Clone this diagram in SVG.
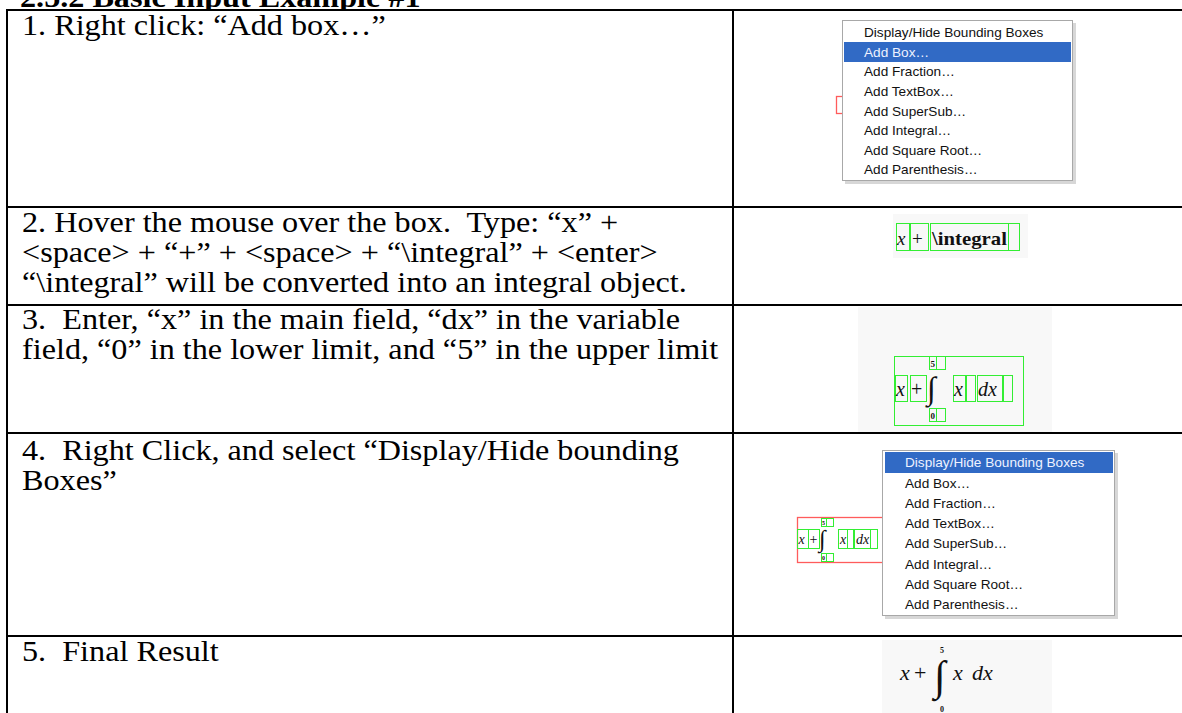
<svg xmlns="http://www.w3.org/2000/svg" width="1182" height="713" viewBox="0 0 1182 713">
<style>
.t{font-family:"Liberation Serif","Times New Roman",serif;font-size:29px;fill:#000;white-space:pre}
.h{font-family:"Liberation Serif","Times New Roman",serif;font-size:29px;font-weight:bold;fill:#000;white-space:pre}
.ln{stroke:#000;stroke-width:2;fill:none}
.m{font-family:"Liberation Sans",Arial,sans-serif;font-size:12.5px;fill:#111;white-space:pre}
.mw{font-family:"Liberation Sans",Arial,sans-serif;font-size:12.5px;fill:#eef2ff;white-space:pre}
.menu{fill:#fff;stroke:#a8a8a8;stroke-width:1}
.shadow{fill:#b0b0b0;opacity:0.5}
.hl{fill:#316ac5}
.g{fill:none;stroke:#33ee33;stroke-width:1}
.r{fill:none;stroke:#ff5c5c;stroke-width:1.3}
.fi{font-family:"Liberation Serif","Times New Roman",serif;font-style:italic;fill:#111}
.fr{font-family:"Liberation Serif","Times New Roman",serif;fill:#111}
.bg{fill:#f8f8f8}
</style>

<g id="header">
<text class="h" transform="translate(20,7) scale(1.11,1)">2.5.2 Basic Input Example #1</text>
</g>

<g id="table">
<rect x="0" y="9" width="1182" height="704" fill="#fff"/>
<line class="ln" x1="6" y1="10" x2="1182" y2="10"/>
<line class="ln" x1="6" y1="207" x2="1182" y2="207"/>
<line class="ln" x1="6" y1="305" x2="1182" y2="305"/>
<line class="ln" x1="6" y1="433" x2="1182" y2="433"/>
<line class="ln" x1="6" y1="636" x2="1182" y2="636"/>
<line class="ln" x1="7" y1="9" x2="7" y2="713"/>
<line class="ln" x1="733" y1="9" x2="733" y2="713"/>
</g>

<g id="step1">
<text class="t" transform="translate(22,35) scale(1.11,1)">1. Right click: “Add box…”</text>
<rect class="r" x="836.5" y="96.5" width="30" height="17"/>
<rect class="shadow" x="845" y="23" width="231" height="161"/>
<rect class="menu" x="842.5" y="20.5" width="230" height="160"/>
<rect class="hl" x="844" y="42" width="227" height="20"/>
<text class="m" transform="translate(864,37) scale(1.09,1)">Display/Hide Bounding Boxes</text>
<text class="mw" transform="translate(864,57) scale(1.09,1)">Add Box…</text>
<text class="m" transform="translate(864,76) scale(1.09,1)">Add Fraction…</text>
<text class="m" transform="translate(864,96) scale(1.09,1)">Add TextBox…</text>
<text class="m" transform="translate(864,116) scale(1.09,1)">Add SuperSub…</text>
<text class="m" transform="translate(864,135) scale(1.09,1)">Add Integral…</text>
<text class="m" transform="translate(864,155) scale(1.09,1)">Add Square Root…</text>
<text class="m" transform="translate(864,174) scale(1.09,1)">Add Parenthesis…</text>
</g>

<g id="step2">
<text class="t" transform="translate(22,232) scale(1.11,1)">2. Hover the mouse over the box.  Type: “x” +</text>
<text class="t" transform="translate(22,262) scale(1.11,1)">&lt;space&gt; + “+” + &lt;space&gt; + “\integral” + &lt;enter&gt;</text>
<text class="t" transform="translate(22,292) scale(1.11,1)">“\integral” will be converted into an integral object.</text>
<rect class="bg" x="893" y="214" width="135" height="44"/>
<rect class="g" x="896.5" y="223.5" width="13" height="27"/>
<rect class="g" x="910.5" y="223.5" width="18" height="27"/>
<rect class="g" x="930.5" y="223.5" width="78" height="27"/>
<rect class="g" x="1008.5" y="223.5" width="11" height="27"/>
<text class="fi" x="897" y="245" font-size="19">x</text>
<text class="fr" x="912" y="245" font-size="19">+</text>
<text class="fr" x="932" y="245" font-size="19" font-weight="bold" textLength="75" lengthAdjust="spacingAndGlyphs">\integral</text>
</g>

<g id="step3">
<text class="t" transform="translate(22,329) scale(1.11,1)">3.  Enter, “x” in the main field, “dx” in the variable</text>
<text class="t" transform="translate(22,359) scale(1.11,1)">field, “0” in the lower limit, and “5” in the upper limit</text>
<rect class="bg" x="858" y="307" width="194" height="125"/>
<rect class="g" x="894.5" y="356.5" width="129" height="69"/>
<rect class="g" x="929.5" y="356.5" width="7" height="13"/>
<rect class="g" x="936.5" y="356.5" width="9" height="13"/>
<rect class="g" x="929.5" y="408.5" width="7" height="13"/>
<rect class="g" x="936.5" y="408.5" width="9" height="13"/>
<rect class="g" x="895.5" y="375.5" width="12" height="26"/>
<rect class="g" x="910.5" y="375.5" width="16" height="26"/>
<rect class="g" x="953.5" y="375.5" width="12" height="26"/>
<rect class="g" x="966.5" y="375.5" width="9" height="26"/>
<rect class="g" x="977.5" y="375.5" width="25" height="26"/>
<rect class="g" x="1003.5" y="375.5" width="9" height="26"/>
<text class="fi" x="896" y="396" font-size="20">x</text>
<text class="fr" x="911" y="396" font-size="20">+</text>
<text class="fr" x="927" y="399" font-size="32">∫</text>
<text class="fr" x="930.5" y="367" font-size="9" font-weight="bold">5</text>
<text class="fr" x="930.5" y="419" font-size="9" font-weight="bold">0</text>
<text class="fi" x="954" y="396" font-size="20">x</text>
<text class="fi" x="978" y="396" font-size="20">dx</text>
</g>

<g id="step4">
<text class="t" transform="translate(22,460) scale(1.11,1)">4.  Right Click, and select “Display/Hide bounding</text>
<text class="t" transform="translate(22,490) scale(1.11,1)">Boxes”</text>
<rect class="r" x="797.5" y="517.5" width="100" height="45"/>
<rect class="g" x="797.5" y="529.5" width="11" height="19"/>
<rect class="g" x="808.5" y="529.5" width="11" height="19"/>
<rect class="g" x="821.5" y="518.5" width="5" height="8"/>
<rect class="g" x="826.5" y="518.5" width="7" height="8"/>
<rect class="g" x="821.5" y="553.5" width="5" height="8"/>
<rect class="g" x="826.5" y="553.5" width="7" height="8"/>
<rect class="g" x="838.5" y="529.5" width="9" height="19"/>
<rect class="g" x="847.5" y="529.5" width="6" height="19"/>
<rect class="g" x="854.5" y="529.5" width="16" height="19"/>
<rect class="g" x="870.5" y="529.5" width="7" height="19"/>
<text class="fi" x="798.5" y="544" font-size="14">x</text>
<text class="fr" x="809.5" y="544" font-size="14">+</text>
<text class="fr" x="819" y="547" font-size="24">∫</text>
<text class="fr" x="822" y="525" font-size="6" font-weight="bold">5</text>
<text class="fr" x="822" y="560" font-size="6" font-weight="bold">0</text>
<text class="fi" x="840" y="544" font-size="14">x</text>
<text class="fi" x="856" y="544" font-size="14">dx</text>
<rect class="shadow" x="885" y="453" width="233" height="166"/>
<rect class="menu" x="882.5" y="450.5" width="232" height="165"/>
<rect class="hl" x="885" y="452" width="228" height="21"/>
<text class="mw" transform="translate(905,467) scale(1.09,1)">Display/Hide Bounding Boxes</text>
<text class="m" transform="translate(905,488) scale(1.09,1)">Add Box…</text>
<text class="m" transform="translate(905,508) scale(1.09,1)">Add Fraction…</text>
<text class="m" transform="translate(905,528) scale(1.09,1)">Add TextBox…</text>
<text class="m" transform="translate(905,548) scale(1.09,1)">Add SuperSub…</text>
<text class="m" transform="translate(905,569) scale(1.09,1)">Add Integral…</text>
<text class="m" transform="translate(905,589) scale(1.09,1)">Add Square Root…</text>
<text class="m" transform="translate(905,609) scale(1.09,1)">Add Parenthesis…</text>
</g>

<g id="step5">
<text class="t" transform="translate(22,661) scale(1.11,1)">5.  Final Result</text>
<rect class="bg" x="882" y="640" width="170" height="73"/>
<text class="fi" x="900" y="680" font-size="22">x</text>
<text class="fr" x="914" y="680" font-size="22">+</text>
<text class="fr" x="934" y="690" font-size="42">∫</text>
<text class="fr" x="940" y="653" font-size="8" font-weight="bold">5</text>
<text class="fr" x="940" y="712" font-size="8" font-weight="bold">0</text>
<text class="fi" x="953" y="680" font-size="22">x</text>
<text class="fi" x="972" y="680" font-size="22">dx</text>
</g>
</svg>
